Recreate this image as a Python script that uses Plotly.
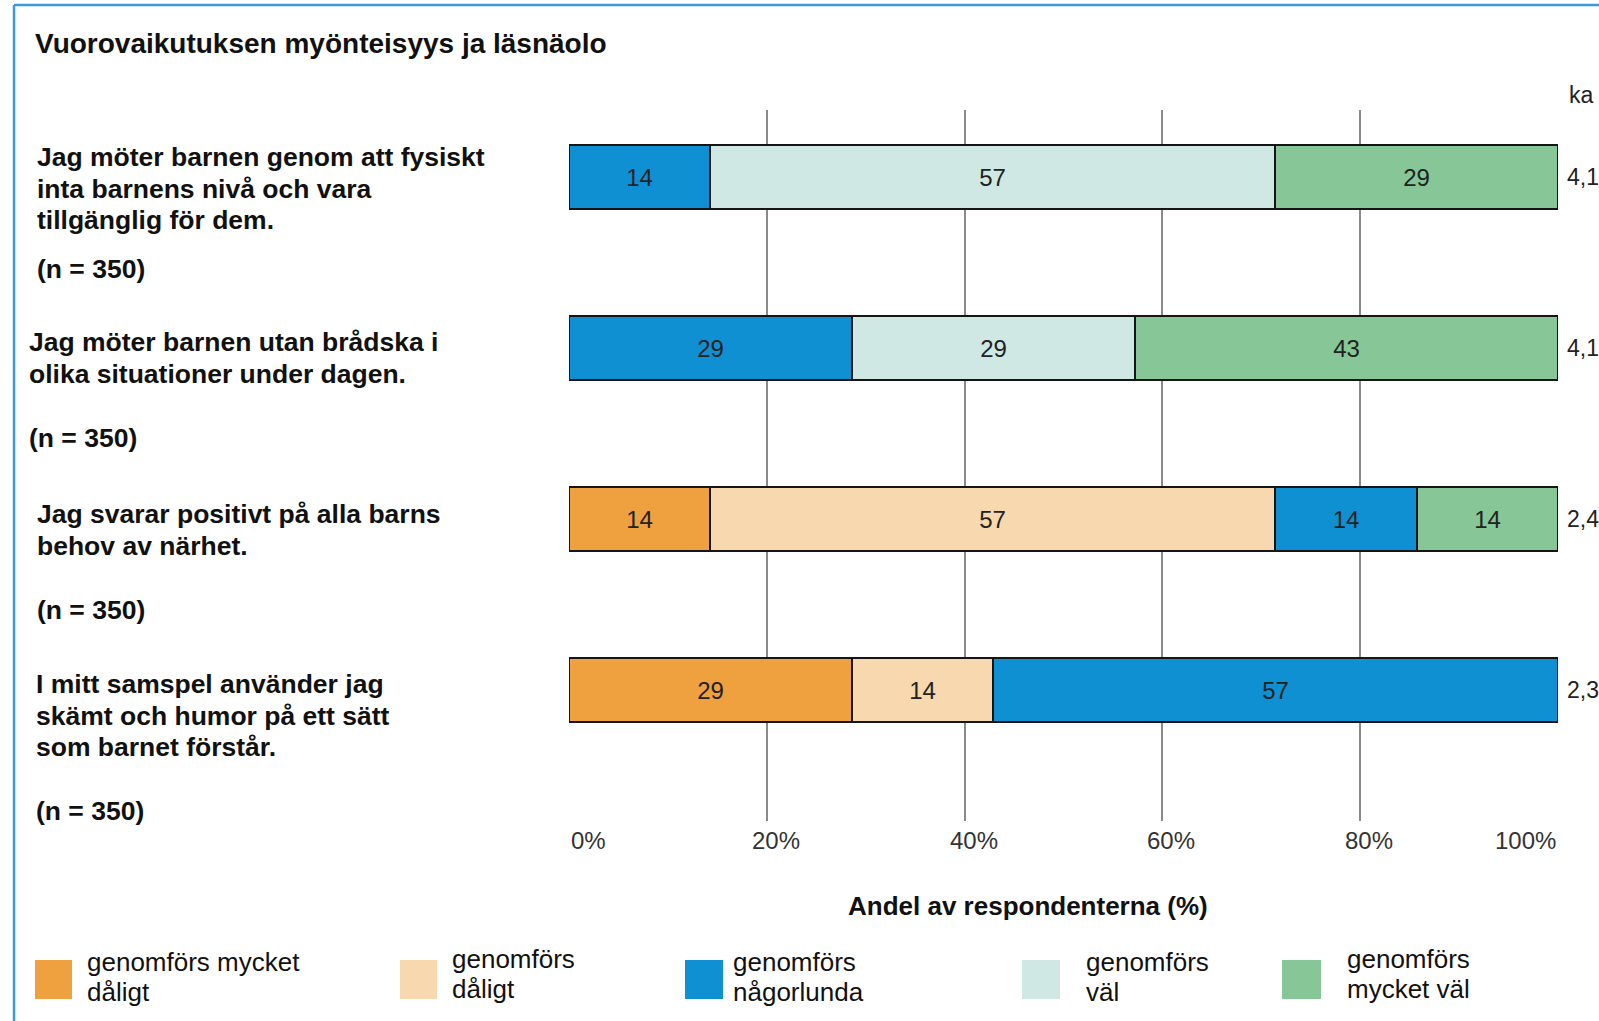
import plotly.graph_objects as go

# ---------------- data ----------------
statements = [
    "Jag möter barnen genom att fysiskt<br>inta barnens nivå och vara<br>tillgänglig för dem.",
    "Jag möter barnen utan brådska i<br>olika situationer under dagen.",
    "Jag svarar positivt på alla barns<br>behov av närhet.",
    "I mitt samspel använder jag<br>skämt och humor på ett sätt<br>som barnet förstår.",
]
n_values = [350, 350, 350, 350]
series_names = [
    "genomförs mycket<br>dåligt",
    "genomförs<br>dåligt",
    "genomförs<br>någorlunda",
    "genomförs<br>väl",
    "genomförs<br>mycket väl",
]
mycket_daligt = [None, None, 14.3, 28.6]
daligt = [None, None, 57.1, 14.3]
nagorlunda = [14.3, 28.6, 14.3, 57.1]
val = [57.1, 28.6, None, None]
mycket_val = [28.6, 42.8, 14.3, None]
averages = ["4,1", "4,1", "2,4", "2,3"]
x_ticks = [0, 20, 40, 60, 80, 100]
x_ticktext = ["0%", "20%", "40%", "60%", "80%", "100%"]
title_text = "Vuorovaikutuksen myönteisyys ja läsnäolo"
x_title = "Andel av respondenterna (%)"
avg_header = "ka"

# ---------------- styles ----------------
colors = ["#EFA13F", "#F8D8AE", "#0E90D3", "#D0E8E4", "#86C697"]
FONT = "Liberation Sans, Arial, sans-serif"
W, H = 1599, 1021
ML, MR, MT, MB = 569, 41, 110, 200
PW, PH = W - ML - MR, H - MT - MB


def px(x):
    return (x - ML) / PW


def py(y):
    return (H - MB - y) / PH


series_values = [mycket_daligt, daligt, nagorlunda, val, mycket_val]
cats = [f"s{i}" for i in range(len(statements))]

fig = go.Figure()
for name, vals, col in zip(series_names, series_values, colors):
    fig.add_trace(go.Bar(
        y=cats, x=vals, name=name, orientation="h",
        marker=dict(color=col, line=dict(color="#151515", width=2)),
        width=0.374,
        texttemplate="%{x:.0f}", textposition="inside", insidetextanchor="middle",
        textangle=0, constraintext="none",
        textfont=dict(family=FONT, size=24, color="#222222"),
        showlegend=False,
    ))

annotations = []
shapes = []

# statement labels (left)
row_layout = [  # (x start px, first line center px, n-label center px)
    (35, 157, 269),
    (27, 342, 438),
    (35, 514, 610),
    (34, 684, 811),
]
LS = 31.6
for stmt, n, (x0, y0, yn) in zip(statements, n_values, row_layout):
    for i, line in enumerate(stmt.split("<br>")):
        annotations.append(dict(
            text=f"<b>{line}</b>", xref="paper", yref="paper",
            x=px(x0), y=py(y0 + i * LS), xanchor="left", yanchor="middle",
            showarrow=False, font=dict(family=FONT, size=26.5, color="#111111"),
        ))
    annotations.append(dict(
        text=f"<b>(n = {n})</b>", xref="paper", yref="paper",
        x=px(x0), y=py(yn), xanchor="left", yanchor="middle",
        showarrow=False, font=dict(family=FONT, size=26.5, color="#111111"),
    ))

# x tick labels (placed on the x scale; first left-, last right-aligned)
for i, (tv, tt) in enumerate(zip(x_ticks, x_ticktext)):
    if i == 0:
        anchor, shift = "left", 0
    elif i == len(x_ticks) - 1:
        anchor, shift = "right", 0
    else:
        anchor, shift = "center", 9
    annotations.append(dict(
        text=tt, xref="x", yref="paper", x=tv, xshift=shift, y=py(840),
        xanchor=anchor, yanchor="middle", showarrow=False,
        font=dict(family=FONT, size=24, color="#333333"),
    ))

# averages column
annotations.append(dict(
    text=avg_header, xref="x", yref="paper", x=100, xshift=9, y=py(95),
    xanchor="left", yanchor="middle", showarrow=False,
    font=dict(family=FONT, size=23, color="#222222"),
))
for c, a in zip(cats, averages):
    annotations.append(dict(
        text=a, xref="x", yref="y", x=100, y=c, xshift=7,
        xanchor="left", yanchor="middle", showarrow=False,
        font=dict(family=FONT, size=23, color="#222222"),
    ))

# x-axis title
annotations.append(dict(
    text=f"<b>{x_title}</b>", xref="paper", yref="paper",
    x=px(1028), y=py(906), xanchor="center", yanchor="middle",
    showarrow=False, font=dict(family=FONT, size=26, color="#111111"),
))

# legend (manual, large swatches)
legend_layout = [  # (swatch x0, x1, text x, first line center)
    (35, 72, 85, 962),
    (400, 437, 450, 959),
    (685, 723, 731, 962),
    (1022, 1060, 1084, 962),
    (1282, 1321, 1345, 959),
]
for name, col, (sx0, sx1, tx, ty) in zip(series_names, colors, legend_layout):
    shapes.append(dict(
        type="rect", xref="paper", yref="paper",
        x0=px(sx0), x1=px(sx1), y0=py(960), y1=py(999),
        fillcolor=col, line=dict(width=0),
    ))
    for i, line in enumerate(name.split("<br>")):
        annotations.append(dict(
            text=line, xref="paper", yref="paper",
            x=px(tx), y=py(ty + i * 29.5), xanchor="left", yanchor="middle",
            showarrow=False, font=dict(family=FONT, size=26, color="#111111"),
        ))

# frame (left and top light-blue border)
shapes.append(dict(type="line", xref="paper", yref="paper",
                   x0=px(14), x1=px(14), y0=py(5), y1=py(1021),
                   line=dict(color="#3A9BDC", width=2.5)))
shapes.append(dict(type="line", xref="paper", yref="paper",
                   x0=px(14), x1=px(1599), y0=py(5), y1=py(5),
                   line=dict(color="#3A9BDC", width=2.5)))

fig.update_layout(
    template="none",
    width=W, height=H,
    margin=dict(l=ML, r=MR, t=MT, b=MB, autoexpand=False),
    paper_bgcolor="white", plot_bgcolor="white",
    barmode="stack",
    bargap=0,
    title=dict(
        text=f"<b>{title_text}</b>", xref="container", yref="container",
        x=35 / W, y=1 - 43 / H, xanchor="left", yanchor="middle",
        font=dict(family=FONT, size=28, color="#111111"),
    ),
    xaxis=dict(
        range=[0, 100], tickvals=x_ticks, ticktext=x_ticktext,
        showticklabels=False,
        showgrid=True, gridcolor="#8a8a8a", gridwidth=2,
        zeroline=False, showline=False, ticks="",
        automargin=False, fixedrange=True,
    ),
    yaxis=dict(
        type="category", categoryorder="array", categoryarray=cats,
        range=[3.765, -0.392], showticklabels=False, showgrid=False,
        zeroline=False, showline=False, ticks="", automargin=False,
        fixedrange=True,
    ),
    annotations=annotations,
    shapes=shapes,
    font=dict(family=FONT),
    showlegend=False,
)

fig.write_html(
    "out.html",
    config={"displayModeBar": False},
    post_script="document.body.style.margin='0';document.body.style.overflow='hidden';",
)
